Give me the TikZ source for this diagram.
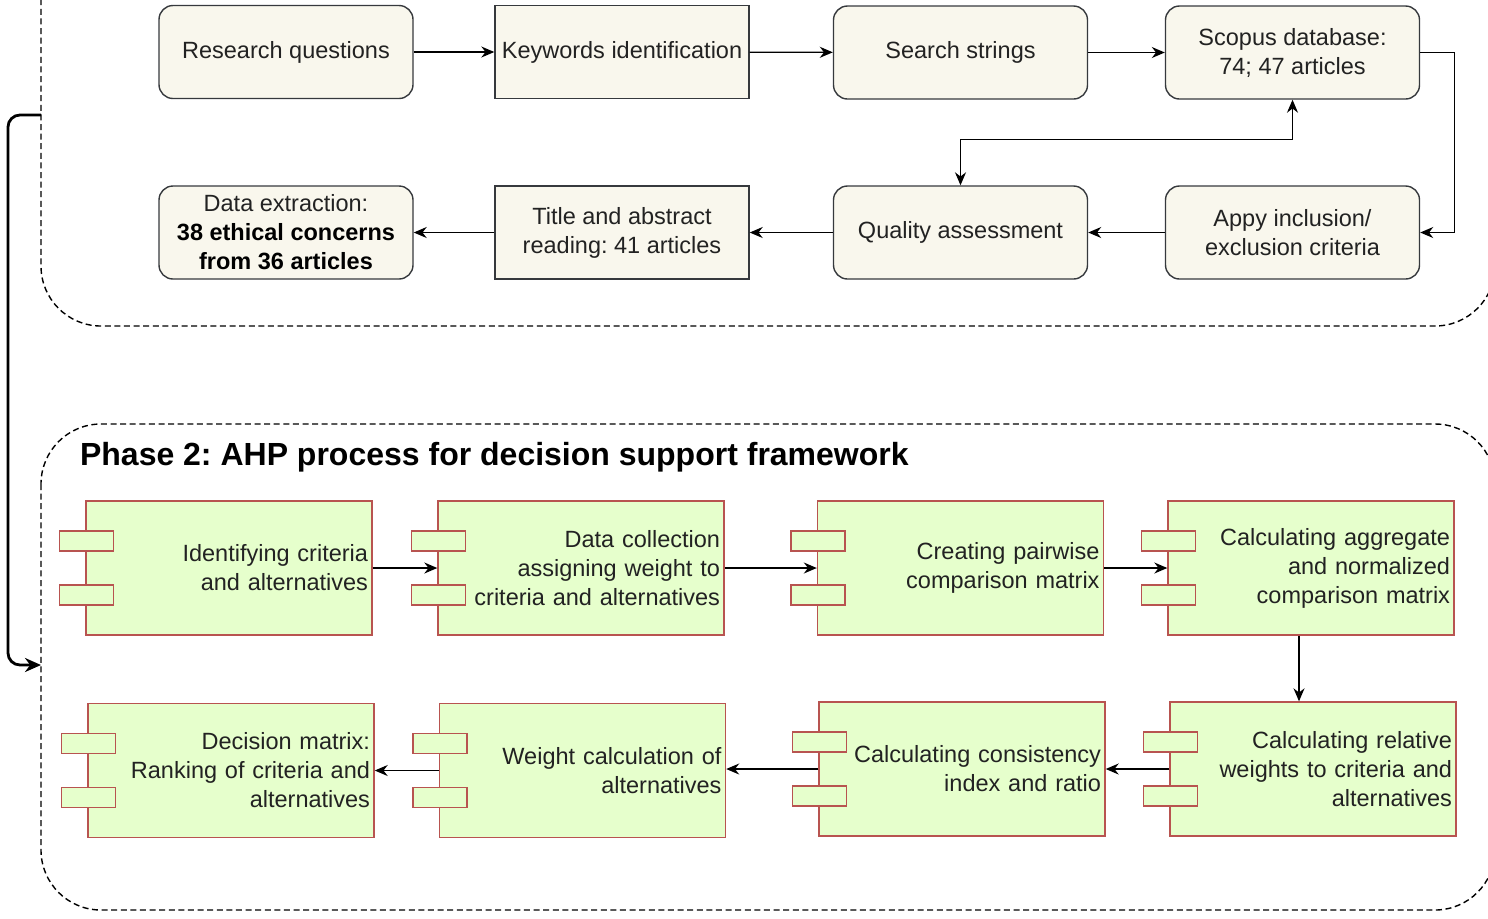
\documentclass[tikz,border=0pt]{standalone}
\usepackage{fontspec}
\setmainfont{Liberation Sans}
\usetikzlibrary{arrows.meta,calc}
\frenchspacing

\definecolor{boxfill}{HTML}{F9F7ED}
\definecolor{boxline}{HTML}{36393D}
\definecolor{compfill}{HTML}{E6FFCC}
\definecolor{compline}{HTML}{B85450}
\definecolor{txt}{HTML}{222222}

\tikzset{
  stepbox/.style={draw=boxline, fill=boxfill, line width=0.7pt, rounded corners=7pt,
    minimum width=127pt, minimum height=46.5pt, inner sep=0pt, align=center,
    text=txt, font=\fontsize{11.75}{14.5}\selectfont},
  stepsq/.style={stepbox, rounded corners=0pt},
  comp/.style={draw=compline, fill=compfill, line width=0.7pt, minimum width=143pt,
    minimum height=67pt, text width=139pt, inner xsep=2pt, align=right,
    text=txt, font=\fontsize{11.75}{14.5}\selectfont},
  port/.style={draw=compline, fill=compfill, line width=0.7pt, minimum width=27pt,
    minimum height=10pt, inner sep=0pt},
  arr/.style={-{Stealth[length=6.5pt,width=5.5pt]}, line width=0.65pt},
  phase/.style={line width=0.7pt, dash pattern=on 3pt off 1.8pt, rounded corners=30pt},
  biglink/.style={-{Stealth[length=8pt,width=7pt]}, line width=1.4pt, rounded corners=6pt},
}

\begin{document}
\begin{tikzpicture}[x=0.5pt, y=-0.5pt]
  \useasboundingbox (0,0) rectangle (1488,918);
  \clip (0,0) rectangle (1488,918);

  % phase frames
  \draw[phase] (41,-80) rectangle (1495,326);
  \draw[phase] (41,424) rectangle (1495,910);

  % phase 1: literature review
  \node[stepbox] (rq) at (286,52)      {Research questions};
  \node[stepsq]  (kw) at (622,52)      {Keywords identification};
  \node[stepbox] (ss) at (960.5,52.5)  {Search strings};
  \node[stepbox] (sc) at (1292.5,52.5) {Scopus database:\\74; 47 articles};
  \node[stepbox] (de) at (286,232.5)   {Data extraction:\\\textbf{\color{black}38 ethical concerns}\\\textbf{\color{black}from 36 articles}};
  \node[stepsq]  (ta) at (622,232.5)   {Title and abstract\\reading: 41 articles};
  \node[stepbox] (qa) at (960.5,232.5) {Quality assessment};
  \node[stepbox] (ai) at (1292.5,232.5) {Appy inclusion/\\exclusion criteria};

  \draw[arr] (rq) -- (kw);
  \draw[arr] (kw) -- (ss);
  \draw[arr] (ss) -- (sc);
  \draw[arr] (sc.east) -- ++(34,0) |- (ai.east);
  \draw[arr] (ai) -- (qa);
  \draw[arr] (qa) -- (ta);
  \draw[arr] (ta) -- (de);
  \draw[arr, {Stealth[length=6.5pt,width=5.5pt]}-{Stealth[length=6.5pt,width=5.5pt]}]
    (qa.north) -- ++(0,-46) -| (sc.south);

  % phase 2: AHP
  \node[anchor=west, font=\bfseries\fontsize{16}{19}\selectfont] (title) at (73,457)
    {Phase 2: AHP process for decision support framework};

  \node[comp] (c1) at (229,568)    {Identifying criteria\\and alternatives};
  \node[comp] (c2) at (581,568)    {Data collection\\assigning weight to\\criteria and alternatives};
  \node[comp] (c3) at (960.5,568)  {Creating pairwise\\comparison matrix};
  \node[comp] (c4) at (1311,568)   {Calculating aggregate\\and normalized\\comparison matrix};
  \node[comp] (c5) at (231,770.5)  {Decision matrix:\\Ranking of criteria and\\alternatives};
  \node[comp] (c6) at (582.5,770.5) {Weight calculation of\\alternatives};
  \node[comp] (c7) at (962,769)    {Calculating consistency\\index and ratio};
  \node[comp] (c8) at (1313,769)   {Calculating relative\\weights to criteria and\\alternatives};

  \foreach \c in {c1,c2,c3,c4,c5,c6,c7,c8} {
    \node[port] (\c-p1) at ($(\c.west)+(0.5pt,13.5pt)$) {};
    \node[port] (\c-p2) at ($(\c.west)+(0.5pt,-13.5pt)$) {};
  }

  \draw[arr] (c1) -- (c2);
  \draw[arr] (c2) -- (c3);
  \draw[arr] (c3) -- (c4);
  \draw[arr] ([xshift=-6pt]c4.south) -- ([xshift=-6pt]c4.south |- c8.north);
  \draw[arr] (c8.west) -- (c7.east);
  \draw[arr] (c7.west) -- (c7.west -| c6.east);
  \draw[arr] (c6.west) -- (c5.east);

  % link between the two phases
  \coordinate (lk1) at (41,115);
  \coordinate (lk2) at (41,665);
  \draw[biglink] (lk1) -- (8,115) -- (8,665) -- (lk2);
\end{tikzpicture}
\end{document}
